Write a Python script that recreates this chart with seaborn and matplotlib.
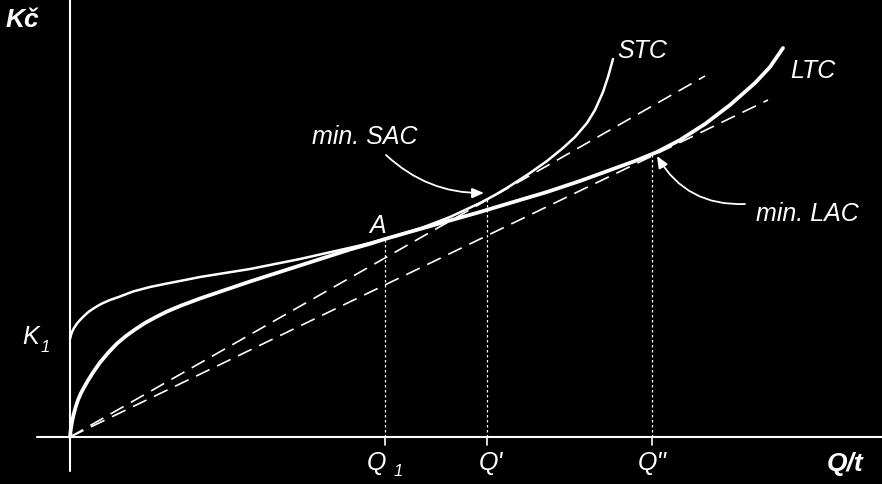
import matplotlib
matplotlib.use("Agg")
import matplotlib.pyplot as plt
import seaborn as sns

# ---- data (units ~ pixels from origin) ----
ltc_q = [0, 0.5, 1, 2, 3.5, 5.5, 8, 11, 14, 18, 23, 30, 38, 47, 56, 65, 75, 86, 97,
         110, 130, 155, 180, 205, 230, 255, 280, 300, 315, 350, 380, 410, 445, 477,
         510, 543, 565, 587, 610, 635, 660, 685, 700, 713]
ltc_c = [0, 5, 9, 15, 22, 29.5, 37, 44, 49.5, 56.5, 64.5, 74.5, 84, 93.5, 101, 107.5,
         114, 120, 125.5, 131, 138.5, 147, 155.5, 163.5, 171.5, 179.5, 187.5, 193.2,
         198, 208, 216.5, 225, 235.5, 245, 256, 268, 276, 285, 297, 313, 332, 354,
         370, 389]

stc_q = [0, 1, 2, 4, 7, 10, 14, 19, 25, 32, 40, 50, 63, 80, 97, 115, 130, 155, 180,
         205, 230, 250, 270, 290, 315, 350, 380, 410, 425, 440, 460, 477, 493, 505,
         517, 525, 533, 538, 543]
stc_c = [98, 102, 105, 109, 113.5, 117, 121, 125.5, 129.5, 133.5, 137, 140.5, 145.5,
         150, 153.5, 157, 160, 164, 168, 173, 178, 182.5, 187, 191.5, 198, 208.5, 220,
         234, 242, 251, 264, 276, 289, 300, 314, 327, 345, 360, 378]

ray_sac_q = [0, 635]
ray_sac_c = [0, 361]
ray_lac_q = [0, 698]
ray_lac_c = [0, 337]

q_marks = [315, 417, 582]          # Q1, Q', Q''
q_heights = [197, 238, 283]

sns.set_style("dark")
plt.rcParams["font.family"] = ["Liberation Sans", "DejaVu Sans"]

fig = plt.figure(figsize=(8.82, 4.85), dpi=100, facecolor="black")
ax = fig.add_axes([0, 0, 1, 1])
ax.set_facecolor("black")

W = "white"
kw = dict(ax=ax, color=W, sort=False, estimator=None, legend=False)

# axes
sns.lineplot(x=[0, 0], y=[-34, 438], lw=1.5, **kw)
sns.lineplot(x=[-33, 812], y=[0, 0], lw=1.5, **kw)

# rays from origin (dashed)
for qx, cy in ((ray_sac_q, ray_sac_c), (ray_lac_q, ray_lac_c)):
    sns.lineplot(x=qx, y=cy, lw=1.2, **kw)
    ax.lines[-1].set_dashes([9, 5])

# vertical dotted guides + ticks
for qm, h in zip(q_marks, q_heights):
    sns.lineplot(x=[qm, qm], y=[0, h], lw=0.9, **kw)
    ax.lines[-1].set_dashes([2, 2])
    sns.lineplot(x=[qm, qm], y=[-8, 0], lw=1.2, **kw)

# curves
sns.lineplot(x=stc_q, y=stc_c, lw=1.8, **kw)
ax.lines[-1].set_solid_joinstyle("round")
sns.lineplot(x=ltc_q, y=ltc_c, lw=2.7, **kw)
ax.lines[-1].set_solid_joinstyle("round")

ax.set_xlim(-70, 812)
ax.set_ylim(-47, 438)
ax.axis("off")

fs = 18
sub = 12
it = dict(color=W, fontstyle="italic", ha="center", va="center")
ax.text(-47.5, 418, "Kč", fontsize=19, fontweight="bold", **it)
ax.text(775, -26, "Q/t", fontsize=19, fontweight="bold", **it)
ax.text(-39, 101.5, "K", fontsize=fs, **it)
ax.text(-25, 91, "1", fontsize=sub, **it)
ax.text(308, 212, "A", fontsize=fs, **it)
ax.text(572.5, 387, "STC", fontsize=fs, **it)
ax.text(742.5, 366.5, "LTC", fontsize=fs, **it)

# Q labels
ax.text(306.5, -25, "Q", fontsize=fs, **it)
ax.text(328.5, -34, "1", fontsize=sub, **it)
ax.text(420.5, -25, "Q'", fontsize=fs, **it)
ax.text(582, -25, "Q''", fontsize=fs, **it)

ap = dict(arrowstyle="-|>,head_length=0.7,head_width=0.3", color=W, lw=1.3,
          shrinkA=0, shrinkB=0)
ax.annotate("", xy=(414, 244), xytext=(316, 282),
            arrowprops=dict(ap, connectionstyle="arc3,rad=0.2"))
ax.text(294.5, 301, "min. SAC", fontsize=fs, **it)
ax.annotate("", xy=(587, 281), xytext=(675, 233),
            arrowprops=dict(ap, connectionstyle="arc3,rad=-0.3"))
ax.text(737.5, 224, "min. LAC", fontsize=fs, **it)

fig.savefig("out.png", dpi=100, facecolor="black")
